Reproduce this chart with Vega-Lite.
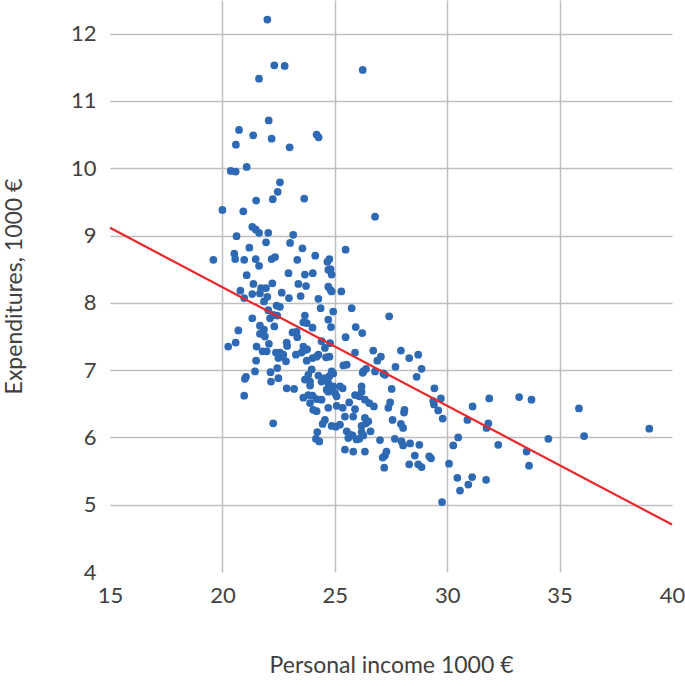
{
  "$schema": "https://vega.github.io/schema/vega-lite/v6.json",
  "autosize": {"type": "none"},
  "width": 562,
  "height": 572,
  "padding": {"left": 110, "top": 0, "right": 13, "bottom": 114},
  "background": "white",
  "config": {
    "view": {"stroke": null},
    "font": "Lato",
    "axis": {"labelFont": "Lato", "titleFont": "Lato", "labelColor": "#404040", "titleColor": "#404040", "labelFontSize": 22, "titleFontSize": 23, "titleFontWeight": "normal", "domain": false, "ticks": false, "gridColor": "#BFBFBF", "gridWidth": 1.5, "labelFlush": false}
  },
  "datasets": {
    "pts": [
      {"x":22.0,"y":12.21},{"x":22.31,"y":11.53},{"x":22.77,"y":11.52},{"x":21.63,"y":11.33},{"x":26.24,"y":11.46},
      {"x":22.06,"y":10.71},{"x":20.74,"y":10.57},{"x":21.37,"y":10.49},{"x":22.19,"y":10.44},{"x":20.6,"y":10.35},
      {"x":22.99,"y":10.31},{"x":24.19,"y":10.5},{"x":24.28,"y":10.46},{"x":20.37,"y":9.96},{"x":20.59,"y":9.95},
      {"x":21.08,"y":10.02},{"x":22.56,"y":9.79},{"x":22.46,"y":9.65},{"x":21.5,"y":9.52},{"x":22.24,"y":9.54},
      {"x":23.64,"y":9.55},{"x":26.79,"y":9.28},{"x":20.0,"y":9.38},{"x":20.93,"y":9.36},
      {"x":21.33,"y":9.13},{"x":21.48,"y":9.09},{"x":21.63,"y":9.04},{"x":22.04,"y":9.04},{"x":23.15,"y":9.01},
      {"x":20.63,"y":8.99},{"x":21.94,"y":8.9},{"x":23.01,"y":8.89},{"x":23.56,"y":8.81},{"x":21.2,"y":8.82},
      {"x":20.53,"y":8.73},{"x":24.13,"y":8.7},{"x":19.6,"y":8.64},{"x":20.57,"y":8.65},{"x":20.97,"y":8.64},
      {"x":21.48,"y":8.65},{"x":21.63,"y":8.55},{"x":22.19,"y":8.65},{"x":22.34,"y":8.68},{"x":23.33,"y":8.64},
      {"x":21.08,"y":8.41},{"x":22.94,"y":8.44},{"x":23.67,"y":8.42},{"x":24.02,"y":8.44},{"x":25.48,"y":8.79},
      {"x":24.67,"y":8.61},{"x":24.76,"y":8.65},{"x":24.71,"y":8.49},{"x":24.81,"y":8.5},{"x":24.86,"y":8.42},
      {"x":20.8,"y":8.18},{"x":21.38,"y":8.28},{"x":21.72,"y":8.22},{"x":21.94,"y":8.22},{"x":22.22,"y":8.29},
      {"x":21.67,"y":8.14},{"x":21.33,"y":8.13},{"x":22.64,"y":8.15},{"x":22.96,"y":8.07},{"x":23.38,"y":8.28},
      {"x":23.72,"y":8.25},{"x":23.48,"y":8.1},{"x":24.27,"y":8.06},{"x":20.97,"y":8.07},{"x":22.0,"y":8.09},
      {"x":24.71,"y":8.24},{"x":24.81,"y":8.19},{"x":24.86,"y":8.17},{"x":25.29,"y":8.17},{"x":21.85,"y":8.02},
      {"x":22.41,"y":7.96},{"x":22.56,"y":7.94},{"x":22.04,"y":7.89},{"x":21.33,"y":7.77},{"x":22.12,"y":7.77},
      {"x":22.26,"y":7.82},{"x":22.44,"y":7.81},{"x":23.67,"y":7.81},{"x":23.6,"y":7.71},{"x":23.75,"y":7.7},
      {"x":21.67,"y":7.66},{"x":21.85,"y":7.6},{"x":21.67,"y":7.54},{"x":22.31,"y":7.65},{"x":20.71,"y":7.59},
      {"x":23.12,"y":7.56},{"x":23.3,"y":7.57},{"x":23.33,"y":7.49},{"x":24.37,"y":7.92},{"x":24.93,"y":7.87},
      {"x":25.75,"y":7.92},{"x":27.42,"y":7.8},{"x":24.71,"y":7.75},{"x":24.01,"y":7.63},{"x":24.83,"y":7.64},
      {"x":25.93,"y":7.64},{"x":26.22,"y":7.55},{"x":25.48,"y":7.49},{"x":24.41,"y":7.43},{"x":24.56,"y":7.33},
      {"x":21.89,"y":7.5},{"x":24.79,"y":7.4},
      {"x":20.59,"y":7.41},{"x":20.26,"y":7.35},{"x":21.52,"y":7.35},{"x":22.07,"y":7.39},{"x":22.86,"y":7.41},
      {"x":22.88,"y":7.36},{"x":21.79,"y":7.28},{"x":21.97,"y":7.28},{"x":22.38,"y":7.26},{"x":22.56,"y":7.26},
      {"x":22.71,"y":7.23},{"x":22.49,"y":7.18},{"x":22.64,"y":7.2},{"x":22.83,"y":7.13},{"x":23.27,"y":7.23},
      {"x":23.52,"y":7.26},{"x":23.67,"y":7.3},{"x":23.77,"y":7.31},{"x":23.75,"y":7.14},{"x":24.01,"y":7.18},
      {"x":24.19,"y":7.2},{"x":21.5,"y":7.14},{"x":23.6,"y":7.35},{"x":24.76,"y":7.2},{"x":25.9,"y":7.26},
      {"x":26.71,"y":7.29},{"x":27.05,"y":7.2},{"x":27.94,"y":7.29},{"x":28.31,"y":7.18},{"x":28.71,"y":7.23},
      {"x":24.27,"y":7.23},{"x":24.61,"y":7.19},{"x":26.89,"y":7.14},{"x":25.53,"y":7.08},{"x":25.38,"y":7.07},
      {"x":26.27,"y":6.98},{"x":26.39,"y":7.02},{"x":26.24,"y":6.96},{"x":26.79,"y":6.98},{"x":27.16,"y":6.95},
      {"x":27.23,"y":6.93},{"x":27.7,"y":7.05},{"x":28.64,"y":6.9},{"x":28.86,"y":7.02},{"x":23.97,"y":7.01},
      {"x":23.82,"y":6.93},{"x":23.9,"y":6.83},{"x":23.67,"y":6.86},{"x":24.27,"y":6.92},{"x":24.41,"y":6.83},
      {"x":24.56,"y":6.88},{"x":24.76,"y":6.91},{"x":24.93,"y":6.95},{"x":24.86,"y":6.98},{"x":21.45,"y":6.98},
      {"x":21.05,"y":6.9},{"x":21.0,"y":6.87},{"x":22.14,"y":6.97},{"x":22.44,"y":7.03},{"x":22.16,"y":6.83},
      {"x":22.49,"y":6.88},{"x":23.9,"y":6.77},
      {"x":22.86,"y":6.73},{"x":23.19,"y":6.72},{"x":20.97,"y":6.62},{"x":23.6,"y":6.59},{"x":23.82,"y":6.63},
      {"x":24.01,"y":6.62},{"x":24.19,"y":6.57},{"x":24.41,"y":6.56},{"x":23.9,"y":6.51},{"x":24.04,"y":6.41},
      {"x":24.19,"y":6.39},{"x":24.71,"y":6.44},{"x":24.64,"y":6.71},{"x":24.71,"y":6.68},{"x":25.01,"y":6.66},
      {"x":25.08,"y":6.61},{"x":24.71,"y":6.81},{"x":24.93,"y":6.76},{"x":25.23,"y":6.76},{"x":25.35,"y":6.73},
      {"x":26.19,"y":6.76},{"x":26.19,"y":6.68},{"x":25.9,"y":6.63},{"x":26.09,"y":6.61},{"x":26.34,"y":6.56},
      {"x":26.53,"y":6.51},{"x":26.74,"y":6.46},{"x":27.53,"y":6.72},{"x":27.46,"y":6.52},{"x":27.38,"y":6.44},
      {"x":28.1,"y":6.41},{"x":28.08,"y":6.37},{"x":25.08,"y":6.47},{"x":25.35,"y":6.44},{"x":25.45,"y":6.31},
      {"x":25.64,"y":6.52},{"x":25.9,"y":6.42},{"x":25.82,"y":6.31},{"x":26.34,"y":6.29},{"x":26.49,"y":6.24},
      {"x":26.39,"y":6.21},{"x":26.19,"y":6.17},{"x":27.57,"y":6.26},{"x":27.94,"y":6.2},{"x":28.04,"y":6.14},
      {"x":24.56,"y":6.26},{"x":24.46,"y":6.2},{"x":24.86,"y":6.17},{"x":25.05,"y":6.16},{"x":25.23,"y":6.19},
      {"x":25.53,"y":6.09},{"x":25.67,"y":6.04},{"x":25.6,"y":5.99},{"x":25.79,"y":6.03},{"x":26.19,"y":6.08},
      {"x":26.27,"y":6.03},{"x":25.97,"y":5.97},{"x":26.09,"y":5.98},{"x":26.59,"y":6.09},{"x":24.22,"y":6.08},
      {"x":24.16,"y":5.98},{"x":24.31,"y":5.94},{"x":22.26,"y":6.21},{"x":27.01,"y":5.96},{"x":27.67,"y":5.98},
      {"x":27.97,"y":5.94},{"x":28.04,"y":5.88},{"x":28.35,"y":5.91},{"x":28.76,"y":5.89},{"x":25.45,"y":5.82},
      {"x":25.82,"y":5.79},{"x":26.34,"y":5.79},{"x":27.3,"y":5.79},{"x":27.23,"y":5.73},{"x":27.13,"y":5.7},
      {"x":27.2,"y":5.55},{"x":28.56,"y":5.73},{"x":28.31,"y":5.6},{"x":28.71,"y":5.6},{"x":28.86,"y":5.56},
      {"x":29.2,"y":5.72},{"x":29.28,"y":5.69},{"x":29.43,"y":6.73},{"x":29.38,"y":6.54},{"x":29.41,"y":6.49},
      {"x":29.6,"y":6.4},{"x":29.72,"y":6.58},{"x":29.8,"y":6.28},{"x":31.13,"y":6.46},{"x":31.87,"y":6.58},
      {"x":30.9,"y":6.26},{"x":31.83,"y":6.21},{"x":31.75,"y":6.14},{"x":33.2,"y":6.6},{"x":33.75,"y":6.56},
      {"x":30.49,"y":6.0},{"x":30.27,"y":5.88},{"x":32.27,"y":5.89},{"x":33.53,"y":5.79},{"x":33.64,"y":5.58},
      {"x":30.08,"y":5.61},{"x":30.45,"y":5.4},{"x":30.57,"y":5.21},{"x":30.94,"y":5.3},{"x":31.11,"y":5.41},
      {"x":31.73,"y":5.37},{"x":29.77,"y":5.04},{"x":35.86,"y":6.43},{"x":38.99,"y":6.13},{"x":34.5,"y":5.98},
      {"x":36.09,"y":6.02}
    ],
    "fit": [{"x": 15, "y": 9.115}, {"x": 40, "y": 4.705}]
  },
  "layer": [
    {
      "data": {"name": "pts"},
      "mark": {"type": "circle", "size": 60, "opacity": 1, "color": "#2E6AB4"},
      "encoding": {
        "x": {"field": "x", "type": "quantitative", "scale": {"domain": [15, 40], "nice": false, "zero": false},
          "axis": {"values": [15, 20, 25, 30, 35, 40], "format": "d", "title": "Personal income 1000 €", "labelPadding": 13, "titlePadding": 48,
            "gridColor": {"condition": {"test": "datum.value === 15 || datum.value === 40", "value": "transparent"}, "value": "#BFBFBF"}}},
        "y": {"field": "y", "type": "quantitative", "scale": {"domain": [4, 12.5], "nice": false, "zero": false},
          "axis": {"values": [4, 5, 6, 7, 8, 9, 10, 11, 12], "format": "d", "title": "Expenditures, 1000 €", "labelPadding": 14, "titlePadding": 44,
            "gridColor": {"condition": {"test": "datum.value === 4", "value": "transparent"}, "value": "#BFBFBF"}}}
      }
    },
    {
      "data": {"name": "fit"},
      "mark": {"type": "line", "color": "#E8282B", "strokeWidth": 2.2},
      "encoding": {
        "x": {"field": "x", "type": "quantitative"},
        "y": {"field": "y", "type": "quantitative"}
      }
    }
  ]
}
